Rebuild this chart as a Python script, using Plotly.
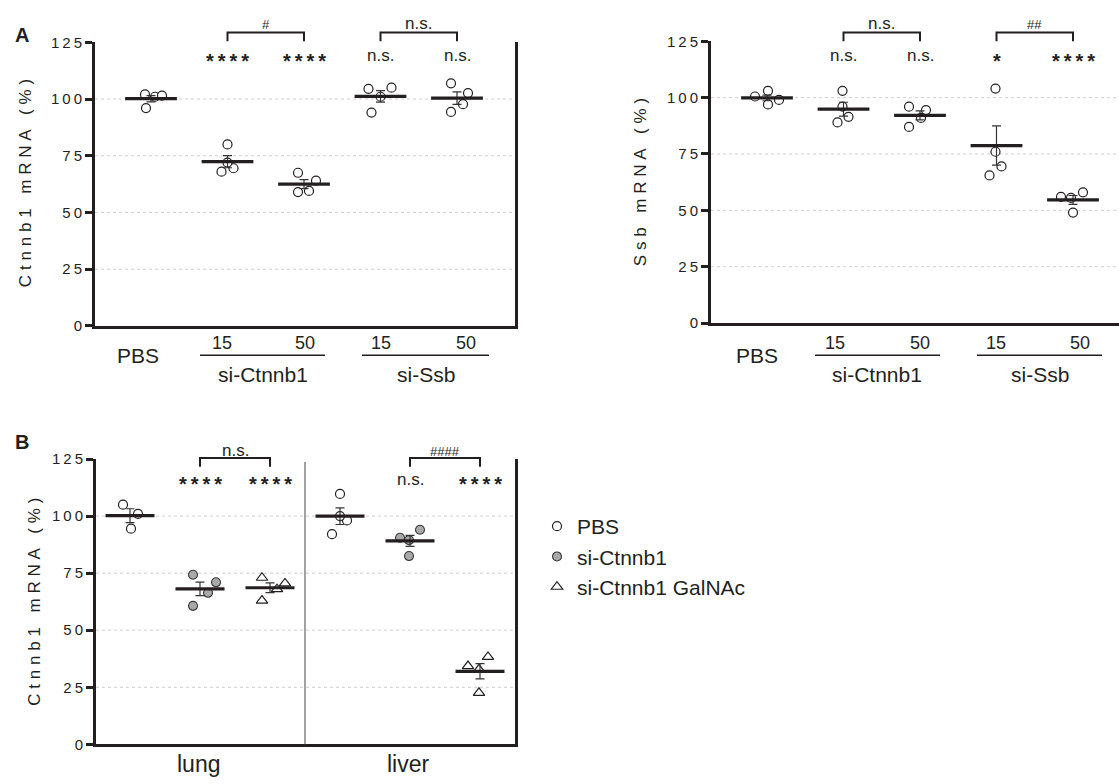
import numpy as np
import plotly.graph_objects as go

W, H = 1119, 784
FONT = "Liberation Sans, Arial, Helvetica, sans-serif"
INK = "#231f20"

# ------------------------------------------------------------------ data
groups_A = ["PBS", "si-Ctnnb1 15", "si-Ctnnb1 50", "si-Ssb 15", "si-Ssb 50"]
ctnnb1_pbs = [102, 96, 101, 101.5]
ctnnb1_sictnnb1_15 = [80, 68, 69.5, 72]
ctnnb1_sictnnb1_50 = [67.5, 64, 59, 59.5]
ctnnb1_sissb_15 = [104.5, 94, 105, 101]
ctnnb1_sissb_50 = [106.9, 102.6, 97.7, 94.3]

ssb_pbs = [100.5, 103, 97, 99]
ssb_sictnnb1_15 = [103, 96, 91.5, 89]
ssb_sictnnb1_50 = [96, 94.5, 91, 87]
ssb_sissb_15 = [104, 76, 69.5, 65.5]
ssb_sissb_50 = [56, 58, 49, 55.5]

tissues_B = ["lung", "liver"]
treatments_B = ["PBS", "si-Ctnnb1", "si-Ctnnb1 GalNAc"]
lung_pbs = [105, 94.5, 101]
lung_sictnnb1 = [74.3, 60.7, 66.4, 71]
lung_galnac = [73, 63, 68, 70.5]
liver_pbs = [109.7, 92.1, 98.1, 100]
liver_sictnnb1 = [90.5, 89.5, 94, 82.5]
liver_galnac = [38.3, 34.3, 32.9, 22.6]

y_ticks = [0, 25, 50, 75, 100, 125]
y_tick_labels = ["0", "25", "50", "75", "100", "125"]

sig_ctnnb1_A = ["", "****", "****", "n.s.", "n.s."]
sig_ssb_A = ["", "n.s.", "n.s.", "*", "****"]
sig_B = ["", "****", "****", "", "n.s.", "****"]
brackets_ctnnb1_A = [(1, 2, "#"), (3, 4, "n.s.")]
brackets_ssb_A = [(1, 2, "n.s."), (3, 4, "##")]
brackets_B = [(1, 2, "n.s."), (4, 5, "####")]

# ------------------------------------------------------------------ style
# horizontal scatter of the dots, in pixels
jit_ctnnb1_A = [[-6, -5, 4, 11], [0, -6, 6, 0], [-6, 12, -6, 5], [-12, -9, 11, 0], [-6, 11, 6, -6]]
jit_ssb_A = [[-12, 1, 1, 12], [-1, -1, 5, -6], [-11, 6, 1, -11], [-1, -1, 5, -7], [-12, 10, 0, -2]]
jit_B = [[-7, 1, 8], [-7, -7, 8, 16], [-8, -8, 7, 15],
         [0, -8, 7, 0], [-10, -1, 10, -1], [8, -12, -1, -1]]
SP_A = 76.5   # px per category, panel A
SP_B = 70.0   # px per category, panel B


def PX(x):
    return x / W


def PY(y):
    return 1 - y / H


def sp(s, gap="\u2009"):
    return gap.join("\u00a0" if c == " " else c for c in s)


def mean_sem(v):
    v = np.asarray(v, float)
    return v.mean(), v.std(ddof=1) / np.sqrt(len(v))


fig = go.Figure()

open_circle = dict(symbol="circle", size=9, color="white", line=dict(color=INK, width=1.2))
grey_circle = dict(symbol="circle", size=9, color="#a9a9a9", line=dict(color="#3a3a3a", width=1.1))
open_tri = dict(symbol="triangle-up", size=10, color="white", line=dict(color=INK, width=1.2))


def add_group(xc, vals, jit, sp_px, marker, xa, ya):
    xs = [xc + j / sp_px for j in jit]
    fig.add_trace(go.Scatter(x=xs, y=vals, mode="markers", marker=marker, xaxis=xa, yaxis=ya,
                             showlegend=False, hoverinfo="y"))


def add_means(xcs, groups, xa, ya, barlen):
    ms = [mean_sem(g) for g in groups]
    fig.add_trace(go.Scatter(
        x=xcs, y=[m for m, s in ms], mode="markers", xaxis=xa, yaxis=ya, showlegend=False,
        marker=dict(symbol="line-ew", size=barlen, line=dict(color=INK, width=3.2)),
        error_y=dict(type="data", array=[s for m, s in ms], color="#333333", thickness=1.2, width=4.5),
        hoverinfo="y"))


# Panel A left: Ctnnb1
dataA1 = [ctnnb1_pbs, ctnnb1_sictnnb1_15, ctnnb1_sictnnb1_50, ctnnb1_sissb_15, ctnnb1_sissb_50]
for i, g in enumerate(dataA1):
    add_group(i, g, jit_ctnnb1_A[i], SP_A, open_circle, "x", "y")
add_means(list(range(5)), dataA1, "x", "y", 37)

# Panel A right: Ssb
dataA2 = [ssb_pbs, ssb_sictnnb1_15, ssb_sictnnb1_50, ssb_sissb_15, ssb_sissb_50]
for i, g in enumerate(dataA2):
    add_group(i, g, jit_ssb_A[i], SP_A, open_circle, "x2", "y2")
add_means(list(range(5)), dataA2, "x2", "y2", 37)

# Panel B
dataB = [lung_pbs, lung_sictnnb1, lung_galnac, liver_pbs, liver_sictnnb1, liver_galnac]
markersB = [open_circle, grey_circle, open_tri]
for t, tname in enumerate(treatments_B):
    xs, ys = [], []
    for k in range(len(tissues_B)):
        idx = k * 3 + t
        xs += [idx + j / SP_B for j in jit_B[idx]]
        ys += dataB[idx]
    fig.add_trace(go.Scatter(x=xs, y=ys, mode="markers", marker=markersB[t], xaxis="x3", yaxis="y3",
                             name=tname, showlegend=True, hoverinfo="y"))
add_means(list(range(6)), dataB, "x3", "y3", 35)

# ------------------------------------------------------------------ axes
tickfont = dict(family=FONT, size=15, color=INK)
ytext = [sp(t) for t in y_tick_labels]


def yax(dom, mirror, anchor):
    return dict(domain=dom, range=[0, 125], showline=True, linewidth=3, linecolor=INK, mirror=mirror,
                ticks="outside", ticklen=7, tickwidth=3, tickcolor=INK, tickvals=y_ticks, anchor=anchor,
                ticktext=ytext, tickfont=tickfont, showgrid=False, zeroline=False, fixedrange=True)


def xax(dom, rng, anchor):
    return dict(domain=dom, range=rng, showline=True, linewidth=3, linecolor=INK, showticklabels=False,
                ticks="", showgrid=False, zeroline=False, anchor=anchor, fixedrange=True)


fig.update_layout(
    xaxis=xax([PX(95), PX(515)], [(95 - 151) / SP_A, (515 - 151) / SP_A], "y"),
    yaxis=yax([PY(324), PY(34)], True, "x"),
    xaxis2=xax([PX(711), 1.0], [(711 - 767) / SP_A, (1119 - 767) / SP_A], "y2"),
    yaxis2=yax([PY(321), PY(33)], False, "x2"),
    xaxis3=xax([PX(96), PX(515)], [(96 - 130) / SP_B, (515 - 130) / SP_B], "y3"),
    yaxis3=yax([PY(751.7), PY(460)], True, "x3"),
)

shapes = []
# gridlines
for xr, yr in [("x", "y"), ("x2", "y2"), ("x3", "y3")]:
    for v in y_ticks[1:-1]:
        shapes.append(dict(type="line", xref=xr + " domain", yref=yr, x0=0, x1=1, y0=v, y1=v,
                           line=dict(color="#cfcfcf", width=1, dash="3px,3px"), layer="below"))
# divider in B
shapes.append(dict(type="line", xref="x3", yref="y3 domain", x0=2.5, x1=2.5, y0=0, y1=0.99,
                   line=dict(color="#444444", width=1)))

annots = []


def txt(x, y, s, size, xref="paper", angle=0, color=INK):
    annots.append(dict(x=x if xref != "paper" else PX(x), y=PY(y), xref=xref, yref="paper", text=s,
                       showarrow=False, xanchor="center", yanchor="middle", textangle=angle,
                       font=dict(family=FONT, size=size, color=color)))


def sigs(labels, xref, y):
    for i, s in enumerate(labels):
        if not s:
            continue
        if "*" in s:
            txt(i, y + 5, "<b>" + "\u2009".join(s) + "</b>", 20, xref=xref)
        else:
            txt(i, y, s, 17, xref=xref)


def brackets(lst, xref, ytop, ybot, ylab):
    for a, b, s in lst:
        shapes.append(dict(type="path", xref=xref, yref="paper",
                           path=f"M {a},{PY(ybot)} L {a},{PY(ytop)} L {b},{PY(ytop)} L {b},{PY(ybot)}",
                           line=dict(color=INK, width=2)))
        if "#" in s:
            txt((a + b) / 2, ylab + 1, s, 13, xref=xref)
        else:
            txt((a + b) / 2, ylab, s, 17, xref=xref)


sigs(sig_ctnnb1_A, "x", 48)
sigs(sig_ssb_A, "x2", 48)
sigs(sig_B, "x3", 481)
brackets(brackets_ctnnb1_A, "x", 24, 33, 15)
brackets(brackets_ssb_A, "x2", 24, 33, 15)
brackets(brackets_B, "x3", 459, 468, 451)

# category labels under panel A
for off in (0, 619):
    txt(138 + off, 354, "PBS", 21)
for x15, x50, u0, u1, cx, lab in [(222, 305, 200, 325, 263, "si-Ctnnb1"), (381, 466, 362, 489, 426, "si-Ssb"),
                                  (835, 920, 815, 940, 877, "si-Ctnnb1"), (996, 1080, 977, 1102, 1040, "si-Ssb")]:
    txt(x15, 341, "15", 18)
    txt(x50, 341, "50", 18)
    txt(cx, 374, lab, 21)
    shapes.append(dict(type="line", xref="paper", yref="paper", x0=PX(u0), x1=PX(u1), y0=PY(354), y1=PY(354),
                       line=dict(color=INK, width=1.5)))

# tissue labels under panel B
txt(198, 772, "lung", 23)
txt(408, 772, "liver", 23)

# axis titles
gap_t = "\u2009\u200a"
txt(25, 178, sp("Ctnnb1 mRNA (%)", gap_t), 17, angle=-90)
txt(640, 177, sp("Ssb mRNA (%)", gap_t), 17, angle=-90)
txt(35, 606, sp("Ctnnb1 mRNA (%)", gap_t), 17, angle=-90)

# panel letters
txt(22, 27, "<b>A</b>", 20)
txt(22, 443, "<b>B</b>", 20)

fig.update_layout(
    width=W, height=H, margin=dict(l=0, r=0, t=0, b=0),
    paper_bgcolor="white", plot_bgcolor="white",
    shapes=shapes, annotations=annots,
    showlegend=True,
    legend=dict(x=PX(537), y=PY(508), xanchor="left", yanchor="top", tracegroupgap=0,
                font=dict(family=FONT, size=21, color=INK), bgcolor="rgba(0,0,0,0)"),
    font=dict(family=FONT, color=INK),
)

POST = """
document.documentElement.style.margin='0';document.body.style.margin='0';
document.documentElement.style.overflow='hidden';document.body.style.overflow='hidden';
var gd=document.getElementById('{plot_id}');
gd.style.position='fixed';gd.style.left='0px';gd.style.top='0px';
"""

fig.write_html("out.html", config={"displayModeBar": False}, post_script=POST)
